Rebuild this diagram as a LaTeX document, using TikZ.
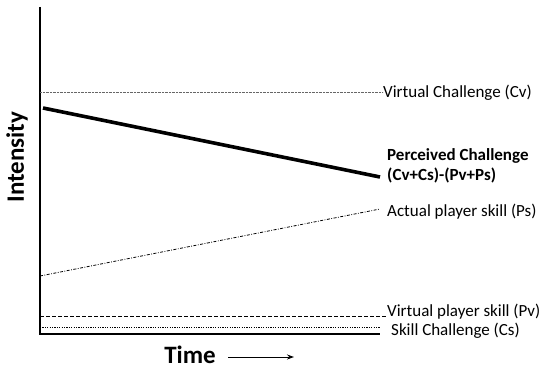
\documentclass[tikz,border=0pt]{standalone}
\usepackage{fontspec}
\setmainfont{Carlito}
\usetikzlibrary{arrows.meta}
\begin{document}
\begin{tikzpicture}[x=1pt,y=-1pt,
  lbl/.style={anchor=west,inner sep=0pt,font=\fontsize{17}{20.5}\selectfont},
  axlbl/.style={inner sep=0pt,font=\fontsize{25}{30}\selectfont\bfseries},
  axisline/.style={line width=1.4pt},
  cvline/.style={line width=0.6pt,gray!80!black,dash pattern=on 0.8pt off 0.6pt},
  pcline/.style={line width=3.6pt},
  psline/.style={line width=0.8pt,dash pattern=on 3pt off 1.5pt on 0.8pt off 1.5pt},
  pvline/.style={line width=0.8pt,dash pattern=on 4pt off 2pt},
  csline/.style={line width=0.8pt,dash pattern=on 1.2pt off 1.2pt}]
\useasboundingbox (0,0) rectangle (541,369);

% axes
\coordinate (top) at (40,7);
\coordinate (origin) at (40,334);
\coordinate (xend) at (380,334);
\draw[axisline] (top) -- (origin) -- (xend);

% axis titles
\node[axlbl,rotate=90] (intensity) at (17,157) {Intensity};
\node[axlbl,anchor=base] (time) at (190,363) {Time};
\coordinate (tarrowstart) at (228,357);
\coordinate (tarrowend) at (294,357);
\draw[line width=1pt,-{Stealth[length=7pt,width=5pt]}] (tarrowstart) -- (tarrowend);

% virtual challenge
\node[lbl] (cv) at (383,93) {Virtual Challenge (Cv)};
\coordinate (cvstart) at (40,92);
\draw[cvline] (cvstart) -- (cvstart -| cv.west);

% perceived challenge
\node[lbl,align=left,font=\fontsize{17}{20.5}\selectfont\bfseries] (pc) at (387,166) {Perceived Challenge\\(Cv+Cs)-(Pv+Ps)};
\coordinate (pcstart) at (43,108);
\coordinate (pcend) at (380,177);
\draw[pcline] (pcstart) -- (pcend);

% actual player skill
\node[lbl] (ps) at (387,212) {Actual player skill (Ps)};
\coordinate (psstart) at (40,276);
\coordinate (psend) at (380,209);
\draw[psline] (psstart) -- (psend);

% virtual player skill
\node[lbl] (pv) at (387,311.5) {Virtual player skill (Pv)};
\coordinate (pvstart) at (40,316);
\coordinate (pvend) at (387,316);
\draw[pvline] (pvstart) -- (pvend);

% skill challenge
\node[lbl] (cs) at (391,330.5) {Skill Challenge (Cs)};
\coordinate (csstart) at (40,327);
\coordinate (csend) at (380,327);
\draw[csline] (csstart) -- (csend);
\end{tikzpicture}
\end{document}
